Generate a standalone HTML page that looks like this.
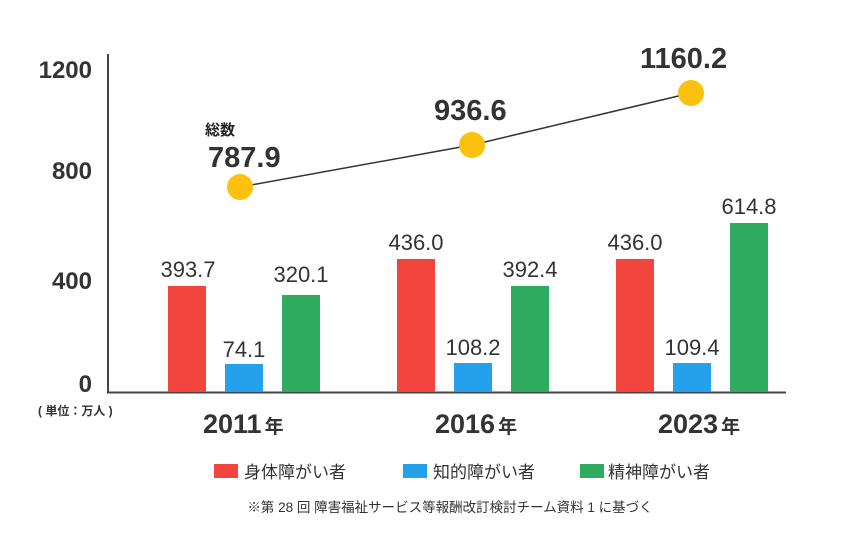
<!DOCTYPE html>
<html><head><meta charset="utf-8"><style>
body{margin:0;background:#fff}
svg{display:block}
</style></head><body>
<svg width="841" height="539" viewBox="0 0 841 539" xmlns="http://www.w3.org/2000/svg" font-family="'Liberation Sans','Noto Sans CJK JP',sans-serif">
<rect width="841" height="539" fill="#fff"/>
<g fill="#333" font-weight="bold" font-size="24" text-anchor="end">
<text x="92" y="78">1200</text>
<text x="92" y="179">800</text>
<text x="92" y="289">400</text>
<text x="92" y="392">0</text>
</g>
<text x="38" y="415" font-size="12" fill="#333" font-weight="bold">( 単位：万人 )</text>
<line x1="108" y1="54" x2="108" y2="393" stroke="#444" stroke-width="2"/>
<line x1="107" y1="392.5" x2="786" y2="392.5" stroke="#444" stroke-width="2"/>
<g>
<rect x="168" y="286" width="38" height="106" fill="#f2453d"/>
<rect x="225" y="364" width="38" height="28" fill="#24a1ea"/>
<rect x="282" y="295" width="38" height="97" fill="#2eab5e"/>
<rect x="397" y="259" width="38" height="133" fill="#f2453d"/>
<rect x="454" y="363" width="38" height="29" fill="#24a1ea"/>
<rect x="511" y="286" width="38" height="106" fill="#2eab5e"/>
<rect x="616" y="259" width="38" height="133" fill="#f2453d"/>
<rect x="673" y="363" width="38" height="29" fill="#24a1ea"/>
<rect x="730" y="223" width="38" height="169" fill="#2eab5e"/>
</g>
<g fill="#333" font-size="22" text-anchor="middle">
<text x="188" y="277">393.7</text>
<text x="244" y="357">74.1</text>
<text x="301" y="282">320.1</text>
<text x="416" y="250">436.0</text>
<text x="473" y="355">108.2</text>
<text x="530" y="277">392.4</text>
<text x="635" y="250">436.0</text>
<text x="692" y="355">109.4</text>
<text x="749" y="214">614.8</text>
</g>
<polyline points="240,187 472,145 691,93" fill="none" stroke="#333" stroke-width="1.5"/>
<circle cx="240" cy="187" r="13" fill="#fcc10e"/>
<circle cx="472" cy="145" r="13" fill="#fcc10e"/>
<circle cx="691" cy="93" r="13" fill="#fcc10e"/>
<text x="205" y="135" font-size="15" font-weight="bold" fill="#222">総数</text>
<g fill="#333" font-weight="bold" font-size="29">
<text x="208" y="167">787.9</text>
<text x="434" y="120">936.6</text>
<text x="640" y="68">1160.2</text>
</g>
<g fill="#333" font-weight="bold">
<text x="203" y="433" font-size="27">2011<tspan font-size="19" dx="3">年</tspan></text>
<text x="435" y="433" font-size="27">2016<tspan font-size="19" dx="3">年</tspan></text>
<text x="658" y="433" font-size="27">2023<tspan font-size="19" dx="3">年</tspan></text>
</g>
<rect x="214" y="464" width="24" height="14" fill="#f2453d"/>
<text x="244" y="478" font-size="17" fill="#333">身体障がい者</text>
<rect x="403" y="464" width="24" height="14" fill="#24a1ea"/>
<text x="433" y="478" font-size="17" fill="#333">知的障がい者</text>
<rect x="580" y="464" width="24" height="14" fill="#2eab5e"/>
<text x="608" y="478" font-size="17" fill="#333">精神障がい者</text>
<text x="450" y="512" font-size="13.5" fill="#333" text-anchor="middle">※第 28 回 障害福祉サービス等報酬改訂検討チーム資料 1 に基づく</text>
</svg>
</body></html>
